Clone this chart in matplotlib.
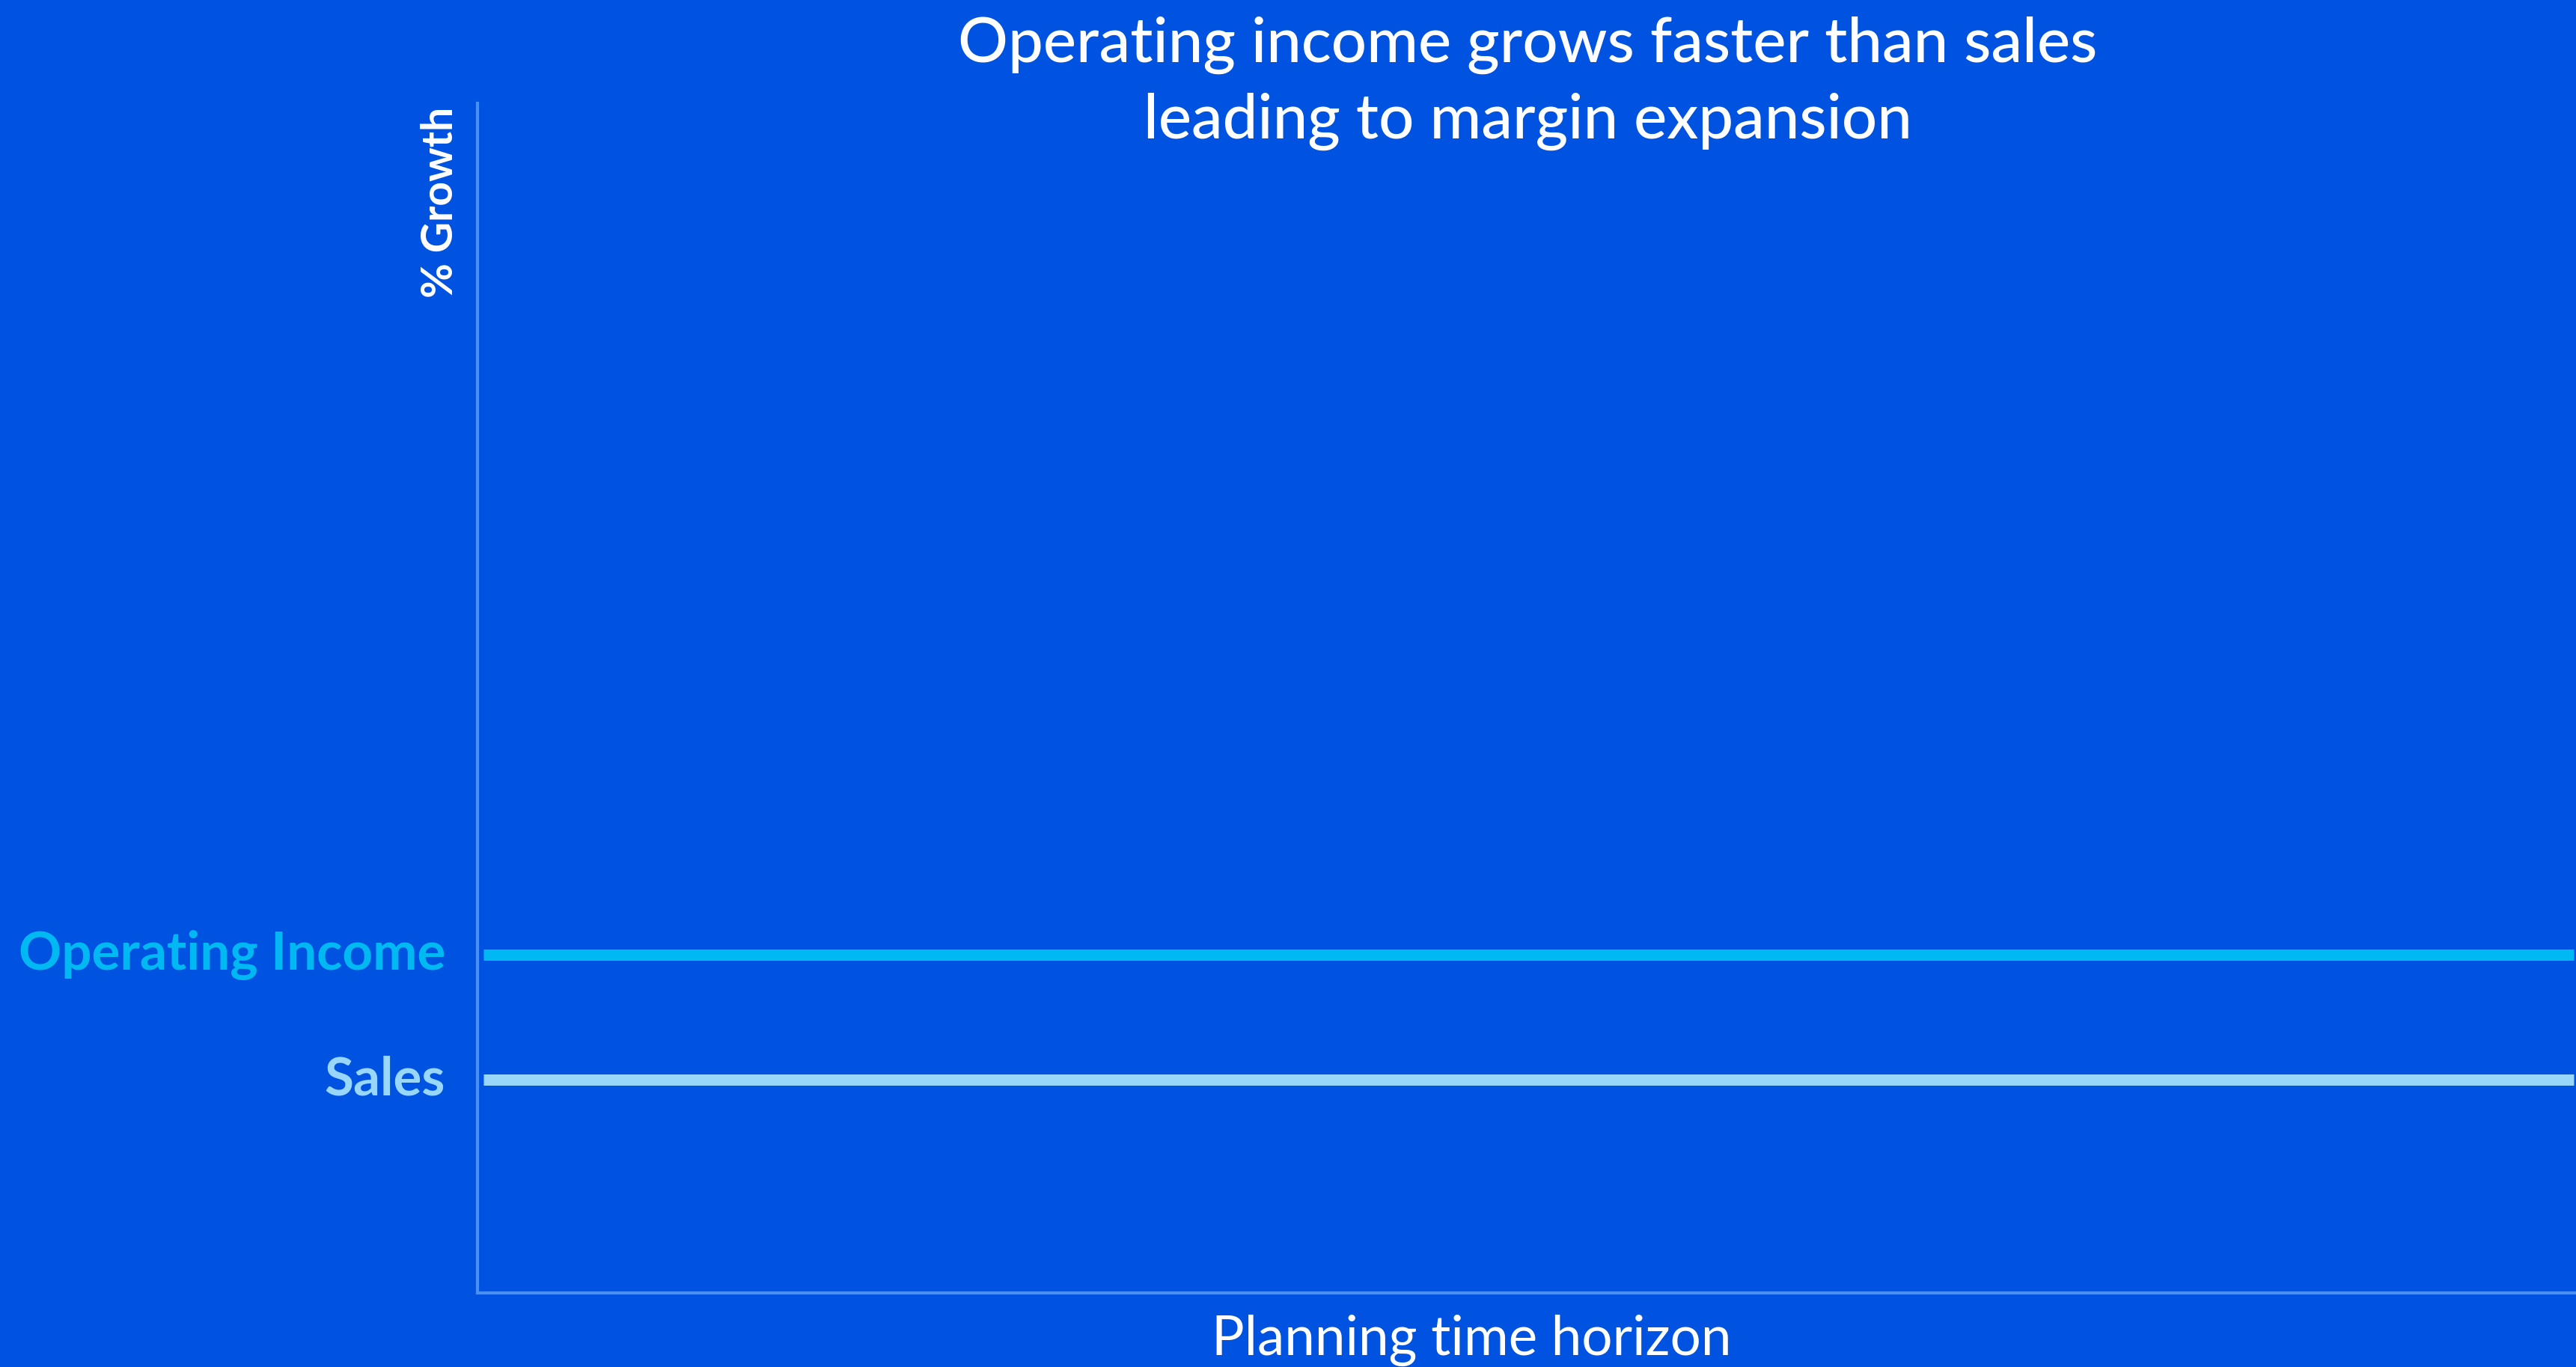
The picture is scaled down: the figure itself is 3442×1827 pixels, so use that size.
import matplotlib
matplotlib.use("Agg")
import matplotlib.pyplot as plt

# ---- data ----
planning_horizon = [0.3, 99.9]
operating_income = [28.4, 28.4]
sales = [17.9, 17.9]
series_names = ["Operating Income", "Sales"]
title_text = "Operating income grows faster than sales\nleading to margin expansion"
x_label = "Planning time horizon"
y_label = "% Growth"

BG = "#0052e0"
OI_COLOR = "#00b9f2"
SALES_COLOR = "#98d6fa"
SPINE = "#4a90f0"

plt.rcParams['font.family'] = ['Lato', 'DejaVu Sans']

W, H = 3442, 1827
fig = plt.figure(figsize=(W / 100, H / 100), dpi=100, facecolor=BG)
ax = fig.add_axes([638 / W, (H - 1728) / H, (W - 638) / W, (1728 - 138) / H])
ax.set_facecolor(BG)

ax.plot(planning_horizon, operating_income, color=OI_COLOR, lw=10.8, solid_capstyle='butt')
ax.plot(planning_horizon, sales, color=SALES_COLOR, lw=10.8, solid_capstyle='butt')

ax.set_xlim(0, 100)
ax.set_ylim(0, 100)
ax.set_xticks([])
ax.set_yticks([])
for s in ['top', 'right']:
    ax.spines[s].set_visible(False)
for s in ['left', 'bottom']:
    ax.spines[s].set_color(SPINE)
    ax.spines[s].set_linewidth(3)

# series labels left of axis
for name, vals, col in zip(series_names, [operating_income, sales], [OI_COLOR, SALES_COLOR]):
    ax.text(-0.0153, vals[0], name, transform=ax.get_yaxis_transform(),
            ha='right', va='center', color=col, fontsize=51, fontweight='bold')

ax.set_ylabel(y_label, loc='top', color='white', fontsize=41, fontweight='bold')
ax.yaxis.set_label_coords(-0.0082, 1.0 - 5 / 1590)

ax.set_xlabel(x_label, color='white', fontsize=52.5)
ax.xaxis.set_label_coords((1966 - 638) / (W - 638), -0.018)
ax.xaxis.label.set_va('top')

fig.text(2041 / W, 1 - 22 / H, title_text, ha='center', va='top', color='white',
         fontsize=60, linespacing=1.4, fontweight='medium')

fig.savefig("out.png", dpi=100, facecolor=BG)
